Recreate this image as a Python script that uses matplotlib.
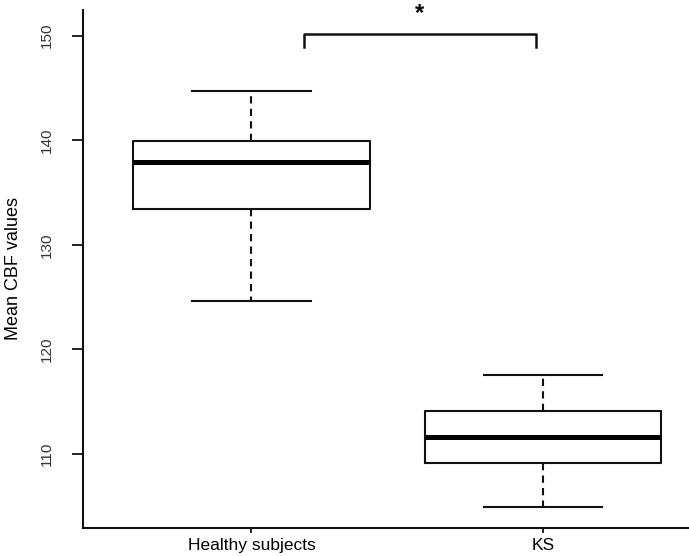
import matplotlib
matplotlib.use("Agg")
import matplotlib.pyplot as plt

plt.rcParams['font.family'] = ['Liberation Sans', 'DejaVu Sans']

# box statistics
groups = ["Healthy subjects", "KS"]
whislo = [124.6, 104.9]
q1 = [133.4, 109.1]
med = [137.9, 111.6]
q3 = [139.9, 114.1]
whishi = [144.7, 117.6]

yticks = [110, 120, 130, 140, 150]

# significance bracket between the groups
bracket_x = [1.18, 1.975]
bracket_top = 150.16
bracket_leg = 148.95
star_label = "*"

stats = []
for i in range(len(groups)):
    stats.append(dict(label=groups[i], whislo=whislo[i], q1=q1[i], med=med[i],
                      q3=q3[i], whishi=whishi[i], fliers=[]))

fig = plt.figure(figsize=(6.89, 5.56), dpi=100)
ax = fig.add_axes([0.12, 0.0509, 0.8785, 0.931])

lc = '#111111'
ax.bxp(stats, positions=[1, 2], widths=0.81, showfliers=False,
       boxprops=dict(color=lc, linewidth=1.5),
       medianprops=dict(color='black', linewidth=3.6, solid_capstyle='butt'),
       whiskerprops=dict(color=lc, linewidth=1.5, linestyle=(0, (3.5, 2.5))),
       capprops=dict(color=lc, linewidth=1.5))

ax.set_xlim(0.421, 2.497)
ax.set_ylim(102.96, 152.45)
ax.set_yticks(yticks)
ax.set_yticklabels([str(t) for t in yticks], rotation=90, va='center',
                   fontsize=11, color='#333333')
ax.set_xticks([1, 2])
ax.set_xticklabels(groups, fontsize=12.5)
ax.tick_params(axis='y', length=8, width=1.3, color=lc, pad=13)
ax.tick_params(axis='x', length=3.5, width=1.3, color=lc, pad=4)
ax.set_ylabel("Mean CBF values", fontsize=13)
ax.yaxis.set_label_coords(-0.1, 0.5)

for s in ['top', 'right']:
    ax.spines[s].set_visible(False)
for s in ['left', 'bottom']:
    ax.spines[s].set_linewidth(1.5)
    ax.spines[s].set_color(lc)

ax.plot([bracket_x[0], bracket_x[0], bracket_x[1], bracket_x[1]],
        [bracket_leg, bracket_top, bracket_top, bracket_leg],
        color=lc, linewidth=1.8, clip_on=False, solid_joinstyle='round')
ax.text(sum(bracket_x) / 2, 152.1, star_label, ha='center', va='center',
        fontsize=17, fontweight='bold', clip_on=False)

fig.savefig("out.png", dpi=100)
